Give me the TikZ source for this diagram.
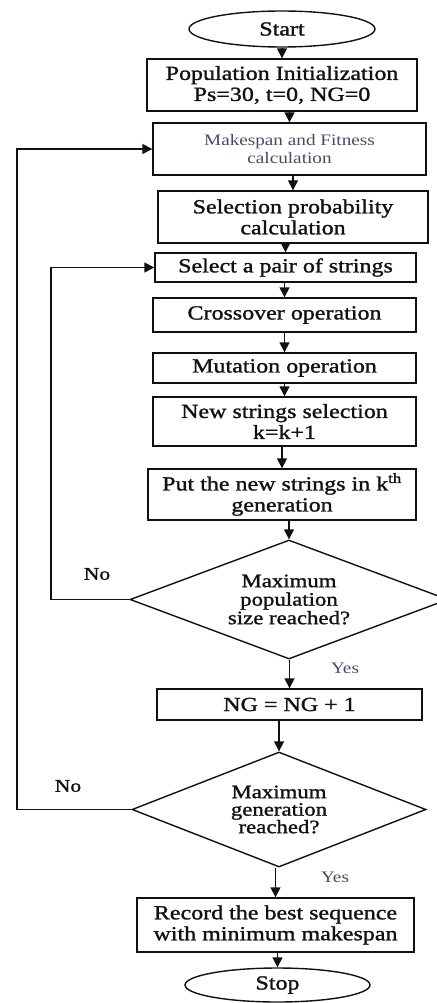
\documentclass[tikz,border=0pt]{standalone}
\usepackage{fontspec}
\setmainfont{Liberation Serif}[FakeStretch=1.2,FakeBold=1.3]
\newfontfamily\lightfont{Liberation Serif}[FakeStretch=1.2]
\usetikzlibrary{arrows.meta,shapes.geometric}
\definecolor{ink}{HTML}{111111}
\definecolor{soft}{HTML}{4A4A66}

\begin{document}
\begin{tikzpicture}[x=1pt,y=-1pt,line width=1.4pt,
    box/.style={rectangle,draw=ink,inner sep=0pt,align=center,text=ink,font=\fontsize{20}{21}\selectfont},
    term/.style={ellipse,draw=ink,inner sep=0pt,text=ink,font=\fontsize{20}{21}\selectfont},
    dec/.style={diamond,draw=ink,inner sep=0pt,align=center,text=ink,font=\fontsize{19}{18.5}\selectfont},
    arr/.style={draw=ink,-{Triangle[length=10pt,width=10pt]}},
    ans/.style={text=soft,font=\lightfont\fontsize{16}{16}\selectfont},
    neg/.style={text=ink,font=\fontsize{18}{18}\selectfont}]
  \useasboundingbox (0,0) rectangle (436,1003);
  \node[term,minimum width=186,minimum height=36] (start) at (282,29) {Start};
  \node[box,minimum width=270,minimum height=52] (pop) at (282,85) {Population Initialization\\Ps=30, t=0, NG=0};
  \node[box,minimum width=273,minimum height=52,text=soft,font=\lightfont\fontsize{16}{18}\selectfont] (make) at (289.5,149) {Makespan and Fitness\\calculation};
  \node[box,minimum width=270,minimum height=52] (sel) at (293,217) {Selection probability\\calculation};
  \node[box,minimum width=261,minimum height=29] (pair) at (285.5,267.5) {Select a pair of strings};
  \node[box,minimum width=263,minimum height=34] (cross) at (284.5,315) {Crossover operation};
  \node[box,minimum width=263,minimum height=30] (mut) at (284.5,368) {Mutation operation};
  \node[box,minimum width=263,minimum height=49] (new) at (284.5,421.5) {New strings selection\\k=k+1};
  \node[box,minimum width=268,minimum height=51] (put) at (282,494.5) {Put the new strings in k\textsuperscript{th}\\generation};
  \node[dec,aspect=2.67,minimum width=318,minimum height=119] (dia1) at (289,599.5) {Maximum\\population\\size reached?};
  \node[box,minimum width=265,minimum height=31] (ng) at (289.5,704.5) {NG = NG + 1};
  \node[dec,aspect=2.56,minimum width=294,minimum height=115,font=\fontsize{19}{17.5}\selectfont] (dia2) at (279,809.5) {Maximum\\generation\\reached?};
  \node[box,minimum width=277,minimum height=54] (rec) at (275.5,925) {Record the best sequence\\with minimum makespan};
  \node[term,minimum width=185,minimum height=34] (stop) at (277.5,985) {Stop};

  \foreach \a/\b in {start/pop,pop/make,make/sel,sel/pair,pair/cross,cross/mut,mut/new,new/put,put/dia1,dia1/ng,ng/dia2,dia2/rec,rec/stop}
    \draw[arr] (\b.north |- \a.south) -- (\b.north);

  \coordinate (loopin) at (51,430);
  \coordinate (loopout) at (17,430);
  \draw[arr] (dia1.west) -| (loopin) |- (pair.west);
  \draw[arr] (dia2.west) -| (loopout) |- (make.west);

  \node[neg] (no1) at (97,574) {No};
  \node[neg] (no2) at (68,786) {No};
  \node[ans] (yes1) at (345,668) {Yes};
  \node[ans] (yes2) at (335,877) {Yes};
\end{tikzpicture}
\end{document}
